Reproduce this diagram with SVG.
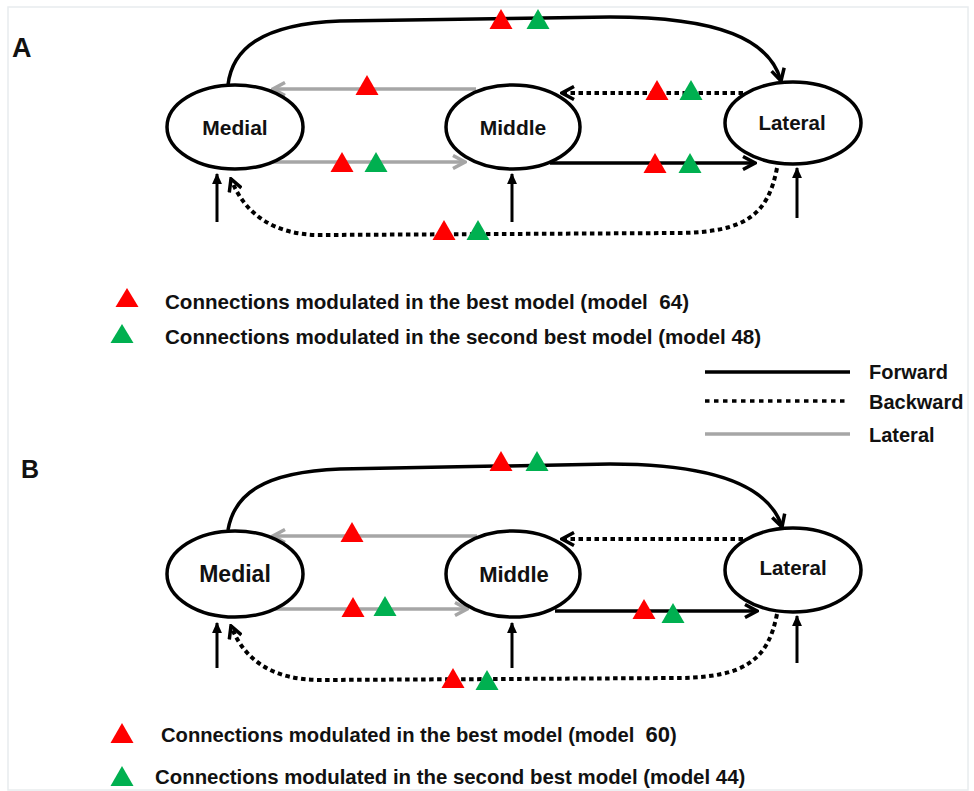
<svg xmlns="http://www.w3.org/2000/svg" xmlns:xlink="http://www.w3.org/1999/xlink" width="974" height="791" viewBox="0 0 974 791">
<style>
.node{fill:#fff;stroke:#000;stroke-width:3.5}
.lbl{font-family:"Liberation Sans",Arial,sans-serif;font-weight:bold;fill:#111;text-anchor:middle}
.txt{font-family:"Liberation Sans",Arial,sans-serif;font-weight:bold;fill:#111}
.fwd{fill:none;stroke:#000;stroke-width:3.5}
.bwd{fill:none;stroke:#000;stroke-width:4;stroke-dasharray:4.5 3.5}
.lat{fill:none;stroke:#a6a6a6;stroke-width:3.5}
.inp{fill:none;stroke:#000;stroke-width:3}
.red{fill:#ff0000}
.grn{fill:#00b050}
</style>
<defs>
<marker id="ab" viewBox="0 0 16 16" refX="14" refY="8" markerWidth="16" markerHeight="16" markerUnits="userSpaceOnUse" orient="auto">
<path d="M2,1.5 L14,8 L2,14.5" fill="none" stroke="#000" stroke-width="3.5"/>
</marker>
<marker id="ag" viewBox="0 0 16 16" refX="14" refY="8" markerWidth="16" markerHeight="16" markerUnits="userSpaceOnUse" orient="auto">
<path d="M2,1.5 L14,8 L2,14.5" fill="none" stroke="#a6a6a6" stroke-width="3.5"/>
</marker>
<marker id="ai" viewBox="0 0 10 10" refX="9" refY="5" markerWidth="11" markerHeight="11" markerUnits="userSpaceOnUse" orient="auto">
<path d="M0,0.5 L10,5 L0,9.5 Z" fill="#000"/>
</marker>
<path id="tri" d="M-11.5,0 L0,-20 L11.5,0 Z"/>
<path id="tris" d="M-11.5,0 L0,-19 L11.5,0 Z"/>
</defs>
<rect x="8" y="7" width="960" height="783" fill="#fff" stroke="#e8ecee" stroke-width="1.5"/>

<!-- Panel A -->
<text class="txt" x="12" y="57" font-size="27">A</text>
<g id="connectors-A">
<path class="fwd" d="M228,85 C232,50 260,24 340,21 L610,17 C720,17 770,40 781,81" marker-end="url(#ab)"/>
<path class="lat" d="M476,89 L273,89" marker-end="url(#ag)"/>
<path class="lat" d="M272,162 L465,162" marker-end="url(#ag)"/>
<path class="bwd" d="M743,93 L562,93" marker-end="url(#ab)"/>
<path class="fwd" d="M550,163 L755,163" marker-end="url(#ab)"/>
<path class="bwd" d="M777,168 C768,215 745,232 680,233 L320,235 C275,235 245,215 231,179" marker-end="url(#ab)"/>
<path class="inp" d="M217,222 L217,174" marker-end="url(#ai)"/>
<path class="inp" d="M512,222 L512,174" marker-end="url(#ai)"/>
<path class="inp" d="M797,218 L797,168" marker-end="url(#ai)"/>
</g>
<g id="A-medial"><ellipse class="node" cx="235" cy="127" rx="68" ry="42"/><text class="lbl" x="235" y="135" font-size="21">Medial</text></g>
<g id="A-middle"><ellipse class="node" cx="513" cy="127" rx="67" ry="42"/><text class="lbl" x="513" y="135" font-size="21">Middle</text></g>
<g id="A-lateral"><ellipse class="node" cx="793" cy="123" rx="68" ry="41"/><text class="lbl" x="792" y="130" font-size="20.5">Lateral</text></g>
<g id="A-markers">
<use xlink:href="#tri" class="red" x="501" y="29"/><use xlink:href="#tri" class="grn" x="538" y="29"/>
<use xlink:href="#tri" class="red" x="367" y="95"/>
<use xlink:href="#tri" class="red" x="342" y="172"/><use xlink:href="#tri" class="grn" x="376" y="172"/>
<use xlink:href="#tri" class="red" x="657" y="100"/><use xlink:href="#tri" class="grn" x="691" y="100"/>
<use xlink:href="#tri" class="red" x="655" y="173"/><use xlink:href="#tri" class="grn" x="690" y="173"/>
<use xlink:href="#tri" class="red" x="444" y="240"/><use xlink:href="#tri" class="grn" x="478" y="240"/>
</g>
<g id="A-legend">
<use xlink:href="#tris" class="red" x="127" y="307"/>
<text class="txt" x="165" y="309" font-size="20.6" xml:space="preserve">Connections modulated in the best model (model  64)</text>
<use xlink:href="#tris" class="grn" x="122" y="343"/>
<text class="txt" x="165" y="344" font-size="20.6">Connections modulated in the second best model (model 48)</text>
</g>

<!-- Line-type legend -->
<g id="type-legend">
<line class="fwd" x1="705" y1="372" x2="850" y2="372"/>
<text class="txt" x="869" y="379" font-size="20">Forward</text>
<line x1="705" y1="401" x2="848" y2="401" stroke="#000" stroke-width="3.5" stroke-dasharray="4.5 4.5"/>
<text class="txt" x="869" y="409" font-size="20">Backward</text>
<line class="lat" x1="705" y1="434" x2="850" y2="434"/>
<text class="txt" x="869" y="442" font-size="20">Lateral</text>
</g>

<!-- Panel B -->
<text class="txt" x="21" y="478" font-size="25">B</text>
<g id="connectors-B">
<path class="fwd" d="M228,530 C234,495 262,472 340,469 L610,464 C720,464 770,488 782,527" marker-end="url(#ab)"/>
<path class="lat" d="M477,536 L273,536" marker-end="url(#ag)"/>
<path class="lat" d="M272,609 L467,609" marker-end="url(#ag)"/>
<path class="bwd" d="M743,539 L562,539" marker-end="url(#ab)"/>
<path class="fwd" d="M555,611 L757,611" marker-end="url(#ab)"/>
<path class="bwd" d="M777,614 C768,660 745,677 680,678 L320,680 C275,680 245,662 231,626" marker-end="url(#ab)"/>
<path class="inp" d="M217,668 L217,623" marker-end="url(#ai)"/>
<path class="inp" d="M512,668 L512,623" marker-end="url(#ai)"/>
<path class="inp" d="M797,663 L797,616" marker-end="url(#ai)"/>
</g>
<g id="B-medial"><ellipse class="node" cx="235" cy="574" rx="68" ry="43"/><text class="lbl" x="235" y="582" font-size="23">Medial</text></g>
<g id="B-middle"><ellipse class="node" cx="513" cy="574" rx="67" ry="43"/><text class="lbl" x="514" y="582" font-size="22">Middle</text></g>
<g id="B-lateral"><ellipse class="node" cx="793" cy="570" rx="68" ry="42"/><text class="lbl" x="793" y="575" font-size="20.5">Lateral</text></g>
<g id="B-markers">
<use xlink:href="#tri" class="red" x="501" y="471"/><use xlink:href="#tri" class="grn" x="537" y="471"/>
<use xlink:href="#tri" class="red" x="352" y="542"/>
<use xlink:href="#tri" class="red" x="353" y="617"/><use xlink:href="#tri" class="grn" x="385" y="616"/>
<use xlink:href="#tri" class="red" x="644" y="619"/><use xlink:href="#tri" class="grn" x="673" y="623"/>
<use xlink:href="#tri" class="red" x="453" y="688"/><use xlink:href="#tri" class="grn" x="487" y="690"/>
</g>
<g id="B-legend">
<use xlink:href="#tri" class="red" x="122" y="743"/>
<text class="txt" x="161" y="742" font-size="20.2" xml:space="preserve">Connections modulated in the best model (model  <tspan font-size="22">60</tspan>)</text>
<use xlink:href="#tri" class="grn" x="122" y="786"/>
<text class="txt" x="155" y="784" font-size="20.4">Connections modulated in the second best model (model 44)</text>
</g>
</svg>
